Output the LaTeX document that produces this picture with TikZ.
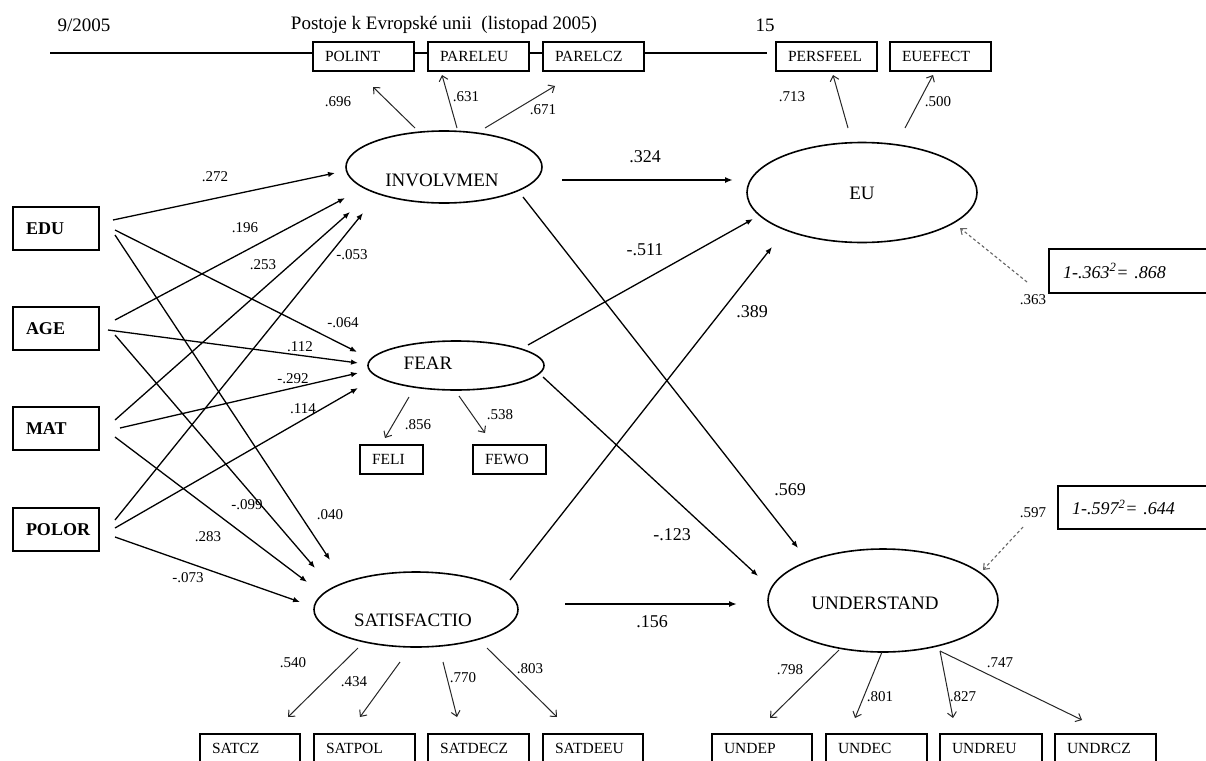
\documentclass[tikz,border=0pt]{standalone}
\usepackage{fontspec}
\setmainfont{Liberation Serif}
\usetikzlibrary{arrows.meta,shapes.geometric,calc}
\begin{document}
\begin{tikzpicture}[x=1pt,y=-1pt,
  box/.style={draw, line width=1.5pt, minimum height=29pt, inner xsep=12pt, inner ysep=0pt, align=left, font=\fontsize{15.5}{16}\selectfont},
  lbox/.style={draw, line width=1.5pt, minimum height=43pt, inner xsep=13pt, inner ysep=0pt, text width=60pt, align=left, font=\fontsize{18}{18}\selectfont\bfseries},
  rbox/.style={draw, line width=1.5pt, inner xsep=14pt, inner ysep=0pt, align=left, font=\fontsize{18}{18}\selectfont\itshape},
  ell/.style={draw, ellipse, line width=1.6pt, inner sep=0pt},
  ename/.style={font=\fontsize{19}{19}\selectfont, inner sep=0pt},
  ttl/.style={font=\fontsize{19}{19}\selectfont, inner sep=0pt},
  lbl/.style={font=\fontsize{15}{15}\selectfont, inner sep=0pt},
  blbl/.style={font=\fontsize{18}{18}\selectfont, inner sep=0pt},
  pth/.style={line width=1.3pt, -{Latex[length=7pt,width=5.5pt]}},
  thk/.style={line width=2.1pt, -{Latex[length=8pt,width=6pt]}},
  ld/.style={line width=1pt, draw=black!85, -{Straight Barb[length=5pt,width=9pt]}},
  err/.style={line width=1.1pt, draw=black!60, dash pattern=on 3pt off 2.5pt, -{Straight Barb[length=5pt,width=8pt]}},
  hline/.style={line width=1.2pt}
]
\fill[white] (0,0) rectangle (1206,760);
\clip (0,0) rectangle (1206,760);

% header texts
\node[ttl] (date) at (84,25) {9/2005};
\node[ttl] (title) at (444,25) {Postoje k Evropské unii\ \ (listopad 2005)};
\node[ttl] (num) at (765,25) {15};

% top indicator boxes
\node[box, text width=77pt] (polint) at (363.5,56.5) {POLINT};
\node[box, text width=77pt] (pareleu) at (478.5,56.5) {PARELEU};
\node[box, text width=77pt] (parelcz) at (593.5,56.5) {PARELCZ};
\node[box, text width=77pt] (persfeel) at (826.5,56.5) {PERSFEEL};
\node[box, text width=77pt] (euefect) at (940.5,56.5) {EUEFECT};

\coordinate (lstart) at (50,53);
\coordinate (lend) at (767,53);
\draw[hline] (lstart) -- ($(polint.west)+(0,-3.5)$);
\draw[hline] ($(polint.east)+(0,-3.5)$) -- ($(pareleu.west)+(0,-3.5)$);
\draw[hline] ($(pareleu.east)+(0,-3.5)$) -- ($(parelcz.west)+(0,-3.5)$);
\draw[hline] ($(parelcz.east)+(0,-3.5)$) -- (lend);

% left boxes
\node[lbox] (edu) at (56,228.5) {EDU};
\node[lbox] (age) at (56,328.5) {AGE};
\node[lbox] (mat) at (56,428.5) {MAT};
\node[lbox] (polor) at (56,529.5) {POLOR};

% latent variables
\node[ell, minimum width=196pt, minimum height=72pt] (inv) at (444,167) {};
\node[ename] (invt) at (442,180) {INVOLVMEN};
\node[ell, minimum width=230pt, minimum height=100pt] (eu) at (862,192.5) {};
\node[ename] (eut) at (862,193) {EU};
\node[ell, minimum width=176pt, minimum height=49pt] (fear) at (456,365.5) {};
\node[ename] (feart) at (428,363) {FEAR};
\node[ell, minimum width=204pt, minimum height=75pt] (sat) at (416,609.5) {};
\node[ename] (satt) at (413,620) {SATISFACTIO};
\node[ell, minimum width=230pt, minimum height=103pt] (und) at (883,600.5) {};
\node[ename] (undt) at (875,603) {UNDERSTAND};

% fear indicators
\node[box, text width=39pt] (feli) at (391.5,459.5) {FELI};
\node[box, text width=49pt] (fewo) at (509.5,459.5) {FEWO};

% bottom indicators
\node[box, text width=76pt] (satcz) at (250,748.5) {SATCZ};
\node[box, text width=77pt] (satpol) at (364.5,748.5) {SATPOL};
\node[box, text width=77pt] (satdecz) at (478.5,748.5) {SATDECZ};
\node[box, text width=76pt] (satdeeu) at (593,748.5) {SATDEEU};
\node[box, text width=76pt] (undep) at (762,748.5) {UNDEP};
\node[box, text width=77pt] (undec) at (876.5,748.5) {UNDEC};
\node[box, text width=78pt] (undreu) at (991,748.5) {UNDREU};
\node[box, text width=77pt] (undrcz) at (1105.5,748.5) {UNDRCZ};

% R2 boxes
\node[rbox, minimum height=44pt, text width=138pt] (r1) at (1132,271) {1-.363\textsuperscript{2}= .868};
\node[rbox, minimum height=43pt, text width=129pt] (r2) at (1136.5,507.5) {1-.597\textsuperscript{2}= .644};

% paths from exogenous variables
\draw[pth] ($(edu)+(57,-8.5)$) -- ($(inv)+(-109,6)$);
\draw[pth] ($(age)+(59,-8.5)$) -- ($(inv)+(-99,31)$);
\draw[pth] ($(mat)+(59,-8.5)$) -- ($(inv)+(-94,45)$);
\draw[pth] ($(polor)+(59,-9.5)$) -- ($(inv)+(-81,46)$);
\draw[pth] ($(edu)+(59,1.5)$) -- ($(fear)+(-99,-13.5)$);
\draw[pth] ($(age)+(52,1.5)$) -- ($(fear)+(-98,-2.5)$);
\draw[pth] ($(mat)+(64,-0.5)$) -- ($(fear)+(-98,7.5)$);
\draw[pth] ($(polor)+(59,-1.5)$) -- ($(fear)+(-98,22.5)$);
\draw[pth] ($(edu)+(59,6.5)$) -- ($(sat)+(-86,-49.5)$);
\draw[pth] ($(age)+(59,6.5)$) -- ($(sat)+(-101,-41.5)$);
\draw[pth] ($(mat)+(59,8.5)$) -- ($(sat)+(-109,-27.5)$);
\draw[pth] ($(polor)+(59,7.5)$) -- ($(sat)+(-116,-7.5)$);

\node[lbl] (l1) at (215,177) {.272};
\node[lbl] (l2) at (245,228) {.196};
\node[lbl] (l3) at (263,265) {.253};
\node[lbl] (l4) at (352,255) {-.053};
\node[lbl] (l5) at (343,323) {-.064};
\node[lbl] (l6) at (300,347) {.112};
\node[lbl] (l7) at (293,379) {-.292};
\node[lbl] (l8) at (303,409) {.114};
\node[lbl] (l9) at (330,515) {.040};
\node[lbl] (l10) at (247,505) {-.099};
\node[lbl] (l11) at (208,537) {.283};
\node[lbl] (l12) at (188,578) {-.073};

% structural paths
\draw[thk] ($(inv)+(118,13)$) -- ($(eu)+(-129,-12.5)$);
\draw[pth] ($(fear)+(72,-20.5)$) -- ($(eu)+(-109,26.5)$);
\draw[pth] ($(sat)+(94,-29.5)$) -- ($(eu)+(-90,54.5)$);
\draw[pth] ($(inv)+(79,30)$) -- ($(und)+(-85,-52.5)$);
\draw[pth] ($(fear)+(87,11.5)$) -- ($(und)+(-125,-24.5)$);
\draw[thk] ($(sat)+(149,-5.5)$) -- ($(und)+(-146,3.5)$);

\node[blbl] (b1) at (645,157) {.324};
\node[blbl] (b2) at (645,250) {-.511};
\node[blbl] (b3) at (752,312) {.389};
\node[blbl] (b4) at (790,490) {.569};
\node[blbl] (b5) at (672,535) {-.123};
\node[blbl] (b6) at (652,622) {.156};

% loadings
\draw[ld] ($(inv)+(-29,-39)$) -- ($(polint)+(9.5,30.5)$);
\draw[ld] ($(inv)+(13,-39)$) -- ($(pareleu)+(-36.5,18.5)$);
\draw[ld] ($(inv)+(41,-39)$) -- ($(parelcz)+(-38.5,29.5)$);
\draw[ld] ($(eu)+(-14,-64.5)$) -- ($(persfeel)+(6.5,18.5)$);
\draw[ld] ($(eu)+(43,-64.5)$) -- ($(euefect)+(-7.5,18.5)$);
\draw[ld] ($(fear)+(-47,31.5)$) -- ($(feli)+(-6.5,-21.5)$);
\draw[ld] ($(fear)+(3,30.5)$) -- ($(fewo)+(-24.5,-26.5)$);
\draw[ld] ($(sat)+(-58,38.5)$) -- ($(satcz)+(38,-31.5)$);
\draw[ld] ($(sat)+(-16,52.5)$) -- ($(satpol)+(-4.5,-31.5)$);
\draw[ld] ($(sat)+(27,52.5)$) -- ($(satdecz)+(-21.5,-31.5)$);
\draw[ld] ($(sat)+(71,38.5)$) -- ($(satdeeu)+(-36,-31.5)$);
\draw[ld] ($(und)+(-44,49.5)$) -- ($(undep)+(8,-30.5)$);
\draw[ld] ($(und)+(-1,51.5)$) -- ($(undec)+(-21.5,-30.5)$);
\draw[ld] ($(und)+(57,50.5)$) -- ($(undreu)+(-38,-30.5)$);
\draw[ld] ($(und)+(57,50.5)$) -- ($(undrcz)+(-23.5,-28.5)$);

\node[lbl] (m1) at (338,102) {.696};
\node[lbl] (m2) at (466,97) {.631};
\node[lbl] (m3) at (543,110) {.671};
\node[lbl] (m4) at (792,97) {.713};
\node[lbl] (m5) at (938,102) {.500};
\node[lbl] (m6) at (418,425) {.856};
\node[lbl] (m7) at (500,415) {.538};
\node[lbl] (m8) at (293,663) {.540};
\node[lbl] (m9) at (354,682) {.434};
\node[lbl] (m10) at (463,678) {.770};
\node[lbl] (m11) at (530,669) {.803};
\node[lbl] (m12) at (790,670) {.798};
\node[lbl] (m13) at (880,697) {.801};
\node[lbl] (m14) at (963,697) {.827};
\node[lbl] (m15) at (1000,663) {.747};

% error terms
\node[lbl] (e1) at (1033,300) {.363};
\node[lbl] (e2) at (1033,513) {.597};
\draw[err] ($(e1)+(-6,-18)$) -- ($(eu)+(98,35.5)$);
\draw[err] ($(e2)+(-10,14)$) -- ($(und)+(100,-30.5)$);
\end{tikzpicture}
\end{document}
